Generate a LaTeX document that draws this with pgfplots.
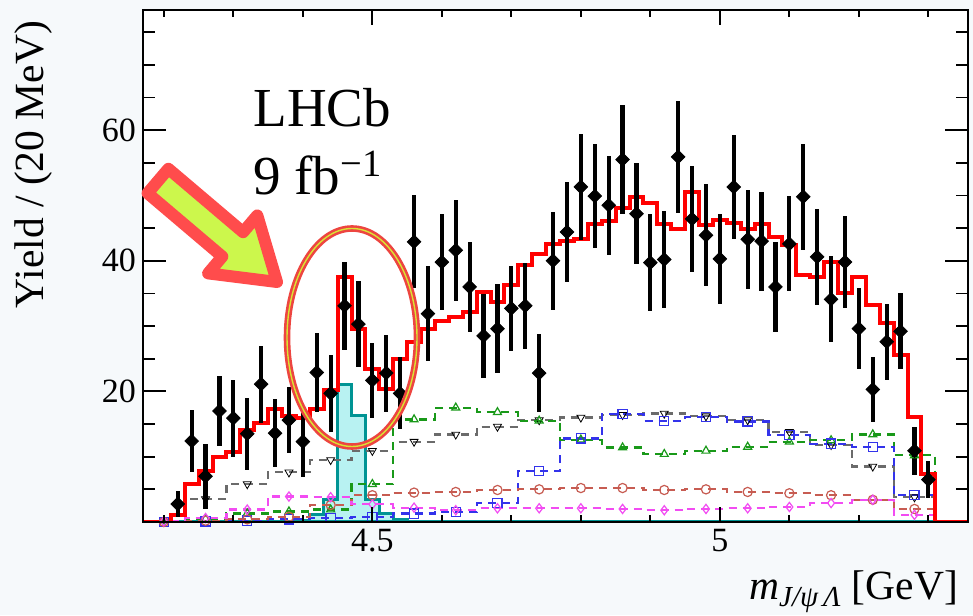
\documentclass[border=0pt]{standalone}
\usepackage{fontspec}
\setmainfont{Liberation Serif}
\usepackage{amsmath}
\usepackage{pgfplots}
\pgfplotsset{compat=1.18}

\definecolor{pagebg}{rgb}{0.965,0.975,0.985}
\definecolor{totred}{rgb}{1,0,0}
\definecolor{sigedge}{rgb}{0,0.58,0.58}
\definecolor{sigfill}{rgb}{0.72,0.95,0.95}
\definecolor{bggrey}{rgb}{0.42,0.42,0.42}
\definecolor{bggreen}{rgb}{0.1,0.6,0.1}
\definecolor{bgblue}{rgb}{0.2,0.2,0.92}
\definecolor{bgbrown}{rgb}{0.78,0.36,0.32}
\definecolor{bgmag}{rgb}{0.95,0.3,0.95}
\definecolor{arrowred}{rgb}{1,0.3,0.3}
\definecolor{arrowlime}{rgb}{0.8,0.97,0.3}
\definecolor{ellred}{rgb}{0.93,0.27,0.25}
\definecolor{ellyel}{rgb}{0.85,0.9,0.2}

% data: bin centre, yield, error
\pgfplotstableread{
x    y     e
4.22 2.75  2.0
4.24 12.4  4.7
4.26 7.0   5.0
4.28 17.0  5.4
4.30 15.9  5.9
4.32 13.5  5.5
4.34 21.1  5.9
4.36 13.6  5.2
4.38 15.6  5.1
4.40 12.3  5.4
4.42 22.9  6.0
4.44 19.7  5.9
4.46 33.1  6.7
4.48 30.3  6.6
4.50 21.7  5.7
4.52 22.8  5.9
4.54 19.7  5.5
4.56 42.9  7.1
4.58 31.9  7.3
4.60 39.8  7.4
4.62 41.6  7.7
4.64 36.0  6.9
4.66 28.5  6.4
4.68 29.6  6.8
4.70 32.7  6.5
4.72 33.1  6.6
4.74 22.8  6.0
4.76 40.0  7.5
4.78 44.4  7.7
4.80 51.3  8.1
4.82 49.9  8.0
4.84 48.5  7.6
4.86 55.5  8.4
4.88 47.2  7.7
4.90 39.7  7.4
4.92 40.2  7.4
4.94 55.9  8.6
4.96 46.4  8.1
4.98 43.9  7.8
5.00 40.3  6.9
5.02 51.3  7.9
5.04 43.3  7.6
5.06 43.0  7.6
5.08 36.0  6.9
5.10 42.6  7.3
5.12 49.8  8.1
5.14 40.6  7.3
5.16 34.1  6.6
5.18 39.8  7.0
5.20 29.6  6.2
5.22 20.3  5.0
5.24 27.6  5.8
5.26 29.2  5.8
5.28 10.9  3.7
5.30 6.5   2.8
}\datatab

% total fit, left bin edge and value
\pgfplotstableread{
lo    v
4.17  0
4.21  1.0
4.23  5.8
4.25  7.8
4.27  10.0
4.29  10.7
4.31  14.1
4.33  15.2
4.35  17.3
4.37  16.2
4.39  16.0
4.41  17.3
4.43  20.2
4.45  37.5
4.47  29.5
4.49  23.5
4.51  20.3
4.53  25.0
4.55  27.5
4.57  29.6
4.59  30.8
4.61  31.4
4.63  32.2
4.65  35.2
4.67  33.7
4.69  36.3
4.71  39.3
4.73  41.1
4.75  42.6
4.77  43.0
4.79  43.4
4.81  45.7
4.83  46.1
4.85  48.1
4.87  49.8
4.89  48.9
4.91  45.7
4.93  44.9
4.95  50.5
4.97  45.4
4.99  46.3
5.01  45.8
5.03  44.9
5.05  45.6
5.07  43.6
5.09  42.4
5.11  37.8
5.13  37.5
5.15  39.8
5.17  35.1
5.19  37.5
5.21  33.2
5.23  30.4
5.25  25.6
5.27  16.1
5.29  7.4
5.31  0
5.357 0
}\totaltab

% Pcs signal component
\pgfplotstableread{
lo    v
4.17  0
4.39  0.2
4.41  1.1
4.43  3.4
4.45  21.1
4.47  16.3
4.49  3.4
4.51  1.3
4.53  0.4
4.55  0.1
4.61  0
5.31  0
}\sigtab

% background components, 60 MeV bins
\pgfplotstableread{
lo    c     grey  green blue  brown mag
4.17  4.20  0.0   0.1   0.0   0.0   0.1
4.23  4.26  3.5   0.5   0.1   0.2   0.6
4.29  4.32  5.8   1.3   0.2   0.4   1.9
4.35  4.38  7.6   1.6   0.4   0.8   3.9
4.41  4.44  9.5   1.9   0.6   2.6   3.8
4.47  4.50  10.9  5.8   0.8   4.1   2.7
4.53  4.56  12.3  15.7  1.3   4.5   2.2
4.59  4.62  13.4  17.5  1.5   4.6   1.8
4.65  4.68  14.6  16.8  2.9   4.9   2.1
4.71  4.74  15.6  15.5  7.8   5.0   2.1
4.77  4.80  16.0  12.6  12.8  5.2   2.1
4.83  4.86  16.4  11.4  16.5  5.2   2.0
4.89  4.92  16.6  10.4  15.5  4.9   1.8
4.95  4.98  16.2  10.9  16.1  5.0   2.0
5.01  5.04  15.6  11.5  15.4  4.6   2.1
5.07  5.10  13.8  12.3  13.3  4.4   2.3
5.13  5.16  11.8  12.5  12.0  4.1   2.9
5.19  5.22  8.5   13.4  11.5  3.4   3.4
5.25  5.28  3.8   10.2  4.1   2.0   1.1
5.31  nan   0     0     0     0     0
}\bgtab

\pgfplotsset{
  lhcb/.style={
    width=412.5pt, height=256pt, scale only axis,
    xmin=4.17, xmax=5.357, ymin=0, ymax=78.4,
    axis line style={line width=1pt},
    tick style={line width=0.9pt, black},
    tick align=inside,
    /pgf/number format/assume math mode=true,
    tick label style={font=\fontsize{17}{20}\selectfont},
  },
  bgline/.style={const plot, no marks, line width=1.1pt, dash pattern=on 4pt off 3pt, draw=#1},
  bgmark/.style={only marks, mark size=2.3pt, mark options={solid, draw=#1, line width=0.6pt, fill=none}},
}

\begin{document}
\begin{tikzpicture}
\begin{scope}[shift={(-71.5pt,261pt)}, x=0.5pt, y=-0.5pt]
  \fill[pagebg] (0,0) rectangle (973,615);
\end{scope}

\begin{axis}[lhcb,
  axis background/.style={fill=white},
  xtick=\empty,
  ytick={20,40,60},
  minor ytick={5,10,15,25,30,35,45,50,55,65,70,75},
  ytick pos=both,
  major tick length=11.5pt, minor tick length=6pt,
  ylabel={Yield / (20 MeV)},
  every axis y label/.style={at={(rel axis cs:-0.1212,0.992)}, anchor=base east, rotate=90,
    font=\fontsize{20.75}{24}\selectfont},
]
% signal
\addplot[const plot, no marks, draw=sigedge, line width=1.5pt, fill=sigfill]
  table[x=lo, y=v] {\sigtab} \closedcycle;
% backgrounds
\addplot[bgline=bggrey] table[x=lo, y=grey] {\bgtab};
\addplot[bgmark=bggrey, mark=triangle, mark options={rotate=180}] table[x=c, y=grey] {\bgtab};
\addplot[bgline=bggreen] table[x=lo, y=green] {\bgtab};
\addplot[bgmark=bggreen, mark=triangle] table[x=c, y=green] {\bgtab};
\addplot[bgline=bgblue] table[x=lo, y=blue] {\bgtab};
\addplot[bgmark=bgblue, mark=square] table[x=c, y=blue] {\bgtab};
\addplot[bgline=bgbrown] table[x=lo, y=brown] {\bgtab};
\addplot[bgmark=bgbrown, mark=o] table[x=c, y=brown] {\bgtab};
\addplot[bgline=bgmag] table[x=lo, y=mag] {\bgtab};
\addplot[bgmark=bgmag, mark=diamond] table[x=c, y=mag] {\bgtab};
% total
\addplot[const plot, no marks, draw=totred, line width=2pt] table[x=lo, y=v] {\totaltab};
% data
\addplot[only marks, mark=square*, mark size=2.4pt,
  mark options={rotate=45, fill=black, draw=black},
  error bars/.cd, y dir=both, y explicit, error mark=none,
  error bar style={line width=2.1pt, black}]
  table[x=x, y=y, y error=e] {\datatab};
\end{axis}

\begin{axis}[lhcb,
  ytick=\empty,
  xtick={4.5,5},
  minor xtick={4.2,4.3,4.4,4.6,4.7,4.8,4.9,5.1,5.2,5.3},
  xtick pos=both,
  major tick length=7.5pt, minor tick length=3.5pt,
  xlabel={\textit{m}$_{\text{\itshape J/ψ\,Λ}}$ [GeV]},
  every axis x label/.style={at={(rel axis cs:0.9964,-0.1523)}, anchor=base east,
    font=\fontsize{20.75}{24}\selectfont},
]
\end{axis}

\begin{scope}[shift={(-71.5pt,261pt)}, x=0.5pt, y=-0.5pt]
  \node[anchor=base west, inner sep=0pt, font=\fontsize{27.5}{30}\selectfont] at (253,126.7) {LHCb};
  \node[anchor=base west, inner sep=0pt, font=\fontsize{27.5}{30}\selectfont] at (253,195) {9 fb\textsuperscript{−1}};
  % arrow: tail (158,181), tip (277,282), shaft half width 16, head half width 38
  \draw[line width=6pt, draw=arrowred, fill=arrowlime, line join=round]
    (168.4,168.8) -- (243.1,232.2) -- (257.3,215.4) -- (277,282) -- (208.1,273.4)
    -- (222.3,256.6) -- (147.6,193.2) -- cycle;
  \draw[ellred, line width=3.3pt] (352,337.5) ellipse [x radius=65, y radius=109];
  \draw[ellyel, line width=0.7pt] (352,337.5) ellipse [x radius=65, y radius=109];
  \pgfresetboundingbox
  \path[use as bounding box] (0,0) rectangle (973,615);
\end{scope}
\end{tikzpicture}
\end{document}
